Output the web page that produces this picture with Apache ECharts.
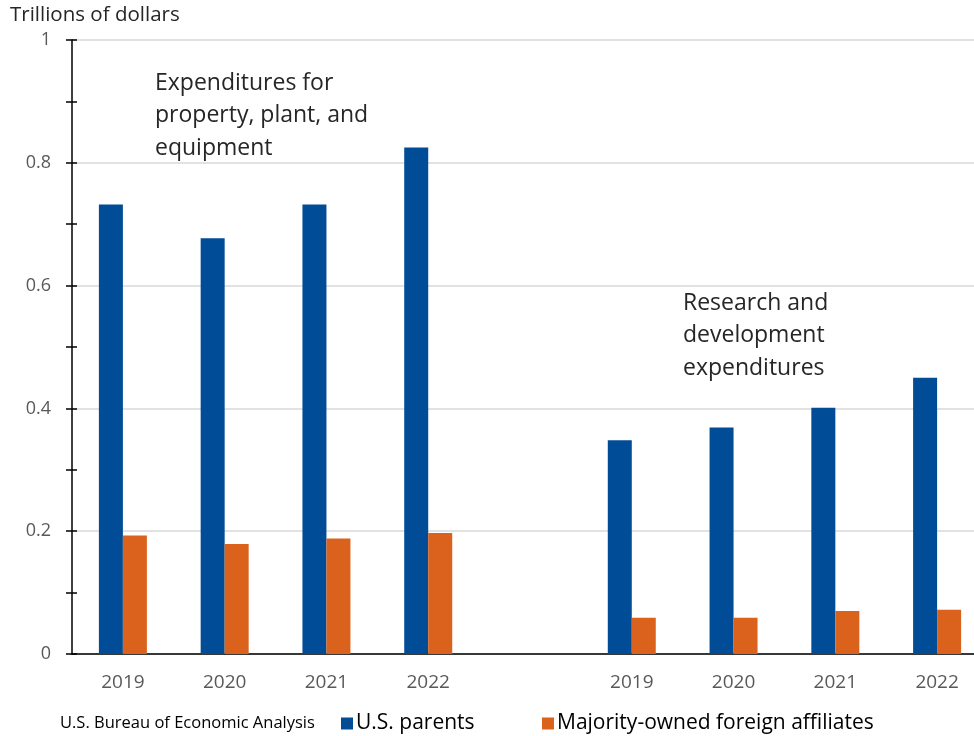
<!DOCTYPE html>
<html>
<head>
<meta charset="utf-8">
<script src="https://cdn.jsdelivr.net/npm/echarts@6/dist/echarts.min.js"></script>
<style>html,body{margin:0;padding:0;background:#fff;}#c{width:974px;height:736px;}</style>
</head>
<body>
<div id="c"></div>
<script>
const categories = ['2019','2020','2021','2022','','2019','2020','2021','2022'];
const usParents = [0.732, 0.677, 0.732, 0.825, null, 0.348, 0.369, 0.401, 0.450];
const foreignAffiliates = [0.193, 0.179, 0.188, 0.197, null, 0.059, 0.059, 0.070, 0.072];
const seriesNames = ['U.S. parents', 'Majority-owned foreign affiliates'];
const annotations = [
  ['Expenditures for', 'property, plant, and', 'equipment'],
  ['Research and', 'development', 'expenditures']
];
const FONT = 'Open Sans';
const chart = echarts.init(document.getElementById('c'));
const legendText = { fontSize: 21, color: '#000', fontFamily: FONT, padding: [0, 0, 0, -2] };
chart.setOption({
  animation: false,
  textStyle: { fontFamily: FONT },
  grid: { left: 72, top: 40, height: 614, width: 916, outerBoundsMode: 'none', containLabel: false },
  xAxis: {
    type: 'category', data: categories,
    axisLine: { lineStyle: { color: '#000', width: 1.5 } },
    axisTick: { show: false },
    axisLabel: { color: '#595959', fontSize: 19, margin: 19, fontFamily: FONT }
  },
  yAxis: [{
    type: 'value', min: 0, max: 1, interval: 0.2,
    axisLine: { show: true, lineStyle: { color: '#000', width: 1.5 } },
    axisTick: { show: true, length: 6, lineStyle: { color: '#000', width: 1.5 } },
    minorTick: { show: true, splitNumber: 2, length: 6, lineStyle: { color: '#000', width: 1.5 } },
    axisLabel: { color: '#595959', fontSize: 18, margin: 21, fontFamily: FONT,
      formatter: v => String(Math.round(v * 10) / 10) },
    splitLine: { show: true, lineStyle: { color: '#d9d9d9', width: 1.5 } }
  }, {
    type: 'value', min: 0, max: 1, interval: 0.2, position: 'left',
    axisLine: { show: false },
    axisTick: { show: true, inside: true, length: 5, lineStyle: { color: '#000', width: 1.5 } },
    minorTick: { show: true, splitNumber: 2, length: 5, lineStyle: { color: '#000', width: 1.5 } },
    axisLabel: { show: false },
    splitLine: { show: false }
  }],
  legend: [{
    left: 336, top: 708, icon: 'rect', itemWidth: 12, itemHeight: 12,
    textStyle: legendText, data: [seriesNames[0]]
  }, {
    left: 537, top: 708, icon: 'rect', itemWidth: 12, itemHeight: 12,
    textStyle: legendText, data: [seriesNames[1]]
  }],
  series: [{
    name: seriesNames[0], type: 'bar', data: usParents, barWidth: 24, barGap: '0%',
    itemStyle: { color: '#004C97' }
  }, {
    name: seriesNames[1], type: 'bar', data: foreignAffiliates, barWidth: 24,
    itemStyle: { color: '#DA621C' }
  }],
  graphic: [
    { type: 'text', left: 10, top: 5, style: { text: 'Trillions of dollars', fontSize: 20.5, fill: '#262626', fontFamily: FONT } },
    { type: 'text', left: 60, top: 715, style: { text: 'U.S. Bureau of Economic Analysis', fontSize: 16.5, fill: '#000', fontFamily: FONT } },
    { type: 'text', left: 155, top: 67, style: { text: annotations[0].join('\n'), fontSize: 23, lineHeight: 32.5, fill: '#262626', fontFamily: FONT } },
    { type: 'text', left: 683, top: 287, style: { text: annotations[1].join('\n'), fontSize: 23, lineHeight: 32.5, fill: '#262626', fontFamily: FONT } }
  ]
});
</script>
</body>
</html>
